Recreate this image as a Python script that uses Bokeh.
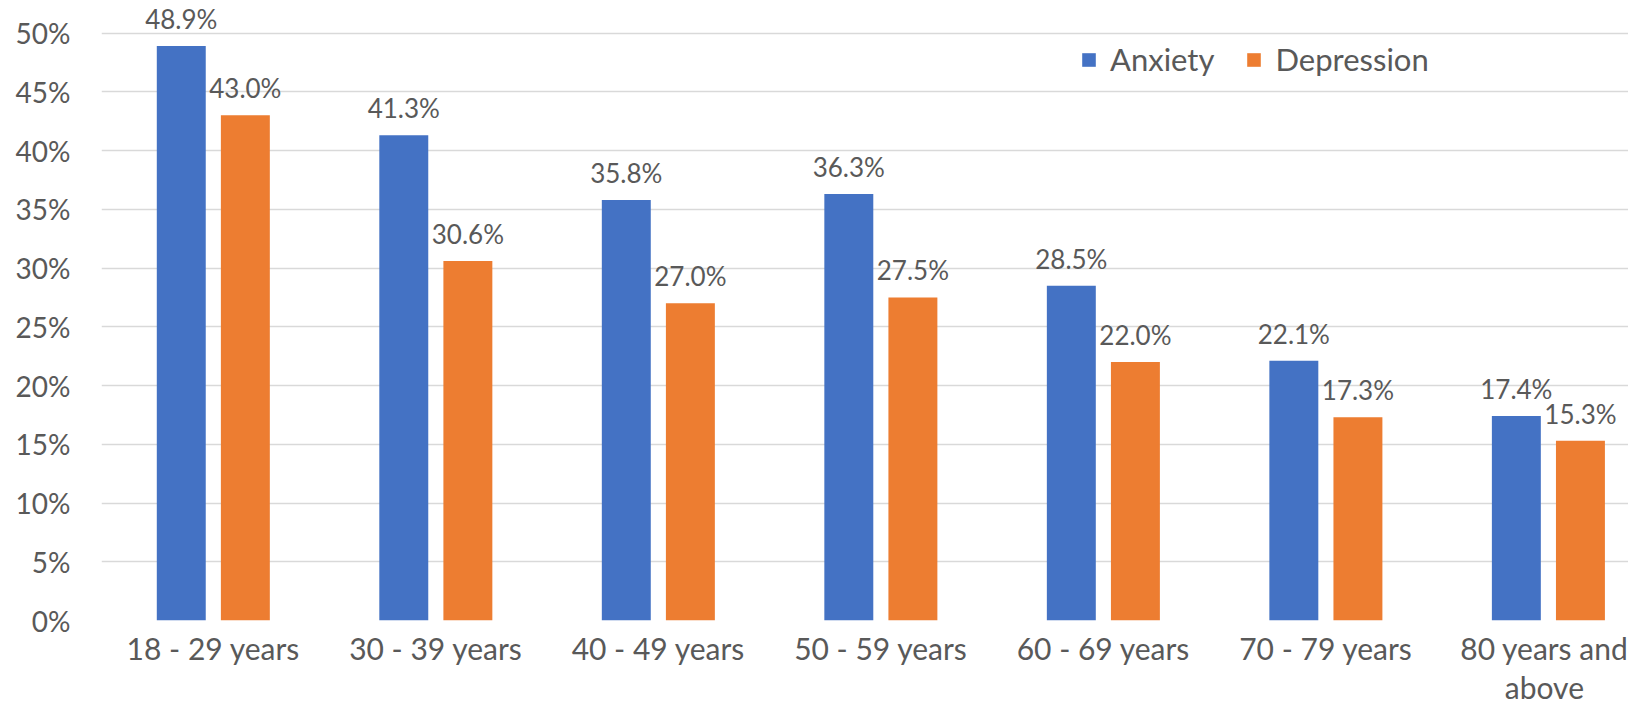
from bokeh.plotting import figure
from bokeh.models import (ColumnDataSource, Range1d, FixedTicker, NumeralTickFormatter,
                          Legend, LegendItem)
from bokeh.transform import dodge
from bokeh.core.properties import value
from bokeh.embed import file_html
from bokeh.resources import INLINE

categories = ["18 - 29 years", "30 - 39 years", "40 - 49 years", "50 - 59 years",
              "60 - 69 years", "70 - 79 years", "80 years and\nabove"]
anxiety = [48.9, 41.3, 35.8, 36.3, 28.5, 22.1, 17.4]
depression = [43.0, 30.6, 27.0, 27.5, 22.0, 17.3, 15.3]
y_ticks = [0, 0.05, 0.10, 0.15, 0.20, 0.25, 0.30, 0.35, 0.40, 0.45, 0.50]

BLUE = "#4472C4"
ORANGE = "#ED7D31"
TEXT = "#595959"
GRID = "#D9D9D9"
FONT = "Lato"

idx = list(range(len(categories)))
src = ColumnDataSource(data=dict(
    x=idx,
    anx=[v / 100 for v in anxiety],
    dep=[v / 100 for v in depression],
    anx_lbl=[f"{v:.1f}%" for v in anxiety],
    dep_lbl=[f"{v:.1f}%" for v in depression],
))

p = figure(width=1628, height=708, output_backend="svg", toolbar_location=None,
           x_range=Range1d(-0.5025, 6.36), y_range=Range1d(0, 0.5277),
           min_border_left=101, min_border_right=0, min_border_top=0, min_border_bottom=88)
p.outline_line_color = None
p.background_fill_color = "white"
p.border_fill_color = "white"

OFF = 0.144
W = 0.22
r_anx = p.vbar(x=dodge("x", -OFF, range=p.x_range), top="anx", width=W, bottom=0,
               source=src, fill_color=BLUE, line_color=None)
r_dep = p.vbar(x=dodge("x", OFF, range=p.x_range), top="dep", width=W, bottom=0,
               source=src, fill_color=ORANGE, line_color=None)

p.text(x=dodge("x", -OFF, range=p.x_range), y="anx", text="anx_lbl", source=src,
       text_align="center", text_baseline="bottom", y_offset=-11,
       text_font=value(FONT), text_font_size="26px", text_color=TEXT)
p.text(x=dodge("x", OFF, range=p.x_range), y="dep", text="dep_lbl", source=src,
       text_align="center", text_baseline="bottom", y_offset=-11,
       text_font=value(FONT), text_font_size="26px", text_color=TEXT)

# axes
p.xaxis.ticker = FixedTicker(ticks=idx)
p.xaxis.major_label_overrides = {i: c for i, c in enumerate(categories)}
p.yaxis.ticker = FixedTicker(ticks=y_ticks)
p.yaxis.formatter = NumeralTickFormatter(format="0%")
for ax in (p.xaxis, p.yaxis):
    ax.axis_line_color = None
    ax.major_tick_line_color = None
    ax.minor_tick_line_color = None
    ax.major_tick_out = 0
    ax.major_tick_in = 0
    ax.major_label_text_font = FONT
    ax.major_label_text_color = TEXT
p.yaxis.major_label_text_font_size = "28px"
p.xaxis.major_label_text_font_size = "30px"
p.xaxis.major_label_text_line_height = 1.1
p.yaxis.major_label_standoff = 31
p.xaxis.major_label_standoff = 9

p.xgrid.grid_line_color = None
p.ygrid.ticker = FixedTicker(ticks=y_ticks)
p.ygrid.grid_line_color = GRID
p.ygrid.grid_line_width = 1.5

legend = Legend(items=[LegendItem(label="Anxiety", renderers=[r_anx]),
                       LegendItem(label="Depression", renderers=[r_dep])],
                orientation="horizontal", location=(979, 542),
                border_line_color=None, background_fill_alpha=0,
                padding=0, margin=0, spacing=31, label_standoff=13,
                glyph_width=17, glyph_height=17, label_height=36,
                label_text_font=FONT, label_text_font_size="31px",
                label_text_color=TEXT)
p.add_layout(legend)

open("out.html", "w").write(file_html(p, INLINE))
